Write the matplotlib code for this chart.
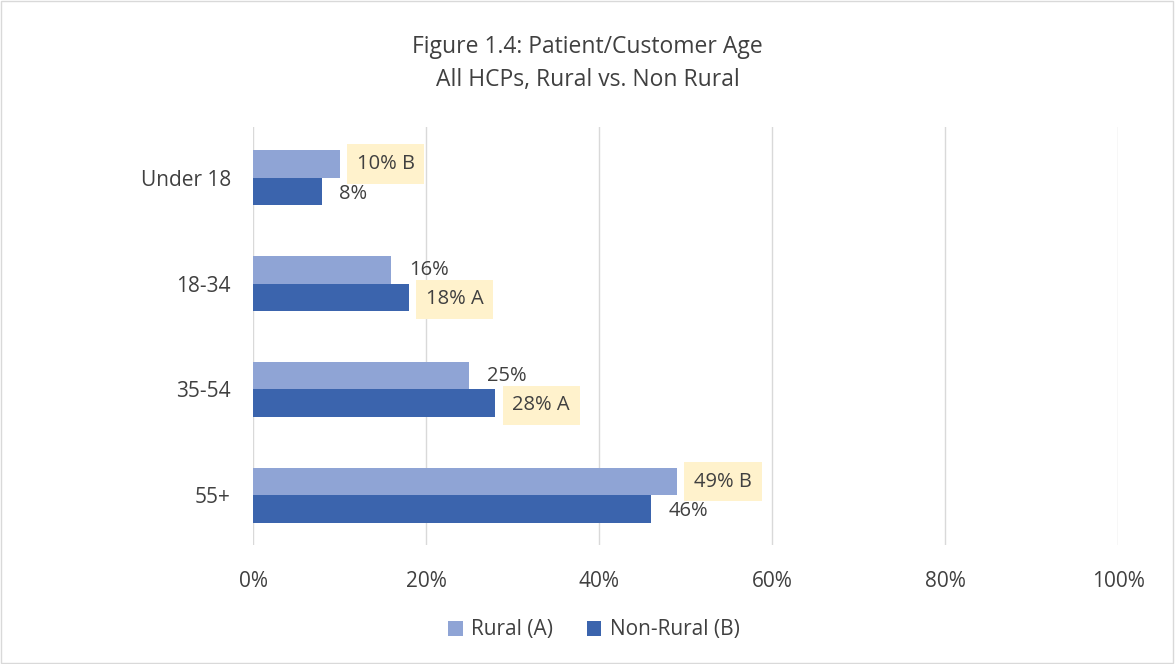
import matplotlib.pyplot as plt
import numpy as np
from matplotlib.patches import Rectangle

plt.rcParams["font.family"] = ["Open Sans", "DejaVu Sans"]

categories = ["Under 18", "18-34", "35-54", "55+"]
rural = [10, 16, 25, 49]
non_rural = [8, 18, 28, 46]
rural_flags = ["B", "", "", "B"]
non_rural_flags = ["", "A", "A", ""]

LIGHT = "#8FA4D5"
DARK = "#3B64AD"
HIGHLIGHT = "#FFF2CC"
TEXT = "#404040"
GRID = "#D9D9D9"

fig = plt.figure(figsize=(11.75, 6.64), dpi=100)
ax = fig.add_axes([253 / 1175, 1 - 545 / 664, 865 / 1175, 418 / 664])

y = np.arange(len(categories))
h = 0.26
ax.barh(y - h / 2, rural, height=h, color=LIGHT, label="Rural (A)", zorder=3)
ax.barh(y + h / 2, non_rural, height=h, color=DARK, label="Non-Rural (B)", zorder=3)


def add_labels(values, flags, offset):
    for yi, v, f in zip(y, values, flags):
        txt = f"{v}%" + (f" {f}" if f else "")
        bbox = dict(facecolor=HIGHLIGHT, edgecolor="none", pad=7) if f else None
        ax.text(v + 2.0, yi + offset, txt, va="center", ha="left", fontsize=14.5,
                color=TEXT, bbox=bbox, zorder=4)


add_labels(rural, rural_flags, -h / 2)
add_labels(non_rural, non_rural_flags, h / 2 + 0.02)

ax.set_xlim(0, 100)
ax.set_ylim(3.47, -0.48)
ax.set_xticks(np.arange(0, 101, 20))
ax.set_xticklabels([f"{t}%" for t in range(0, 101, 20)])
ax.set_yticks(y)
ax.set_yticklabels(categories)
ax.tick_params(length=0, labelsize=15, labelcolor=TEXT)
ax.tick_params(axis="x", pad=19)
ax.tick_params(axis="y", pad=16)
ax.grid(axis="x", color=GRID, linewidth=1, zorder=0)
for s in ax.spines.values():
    s.set_visible(False)

fig.text(0.5, 1 - 47 / 664, "Figure 1.4: Patient/Customer Age", ha="center", va="center",
         fontsize=16.5, color=TEXT)
fig.text(0.5, 1 - 80 / 664, "All HCPs, Rural vs. Non Rural", ha="center", va="center",
         fontsize=16.5, color=TEXT)

fig.legend(loc="center", bbox_to_anchor=(594 / 1175, 1 - 630 / 664), ncol=2, frameon=False,
           fontsize=15, labelcolor=TEXT, handlelength=0.7, handleheight=0.7,
           columnspacing=1.6, handletextpad=0.4)

fig.patches.append(Rectangle((0.001, 0.001), 0.997, 0.997, transform=fig.transFigure,
                             fill=False, edgecolor=GRID, linewidth=1))

fig.savefig("out.png", dpi=100)
